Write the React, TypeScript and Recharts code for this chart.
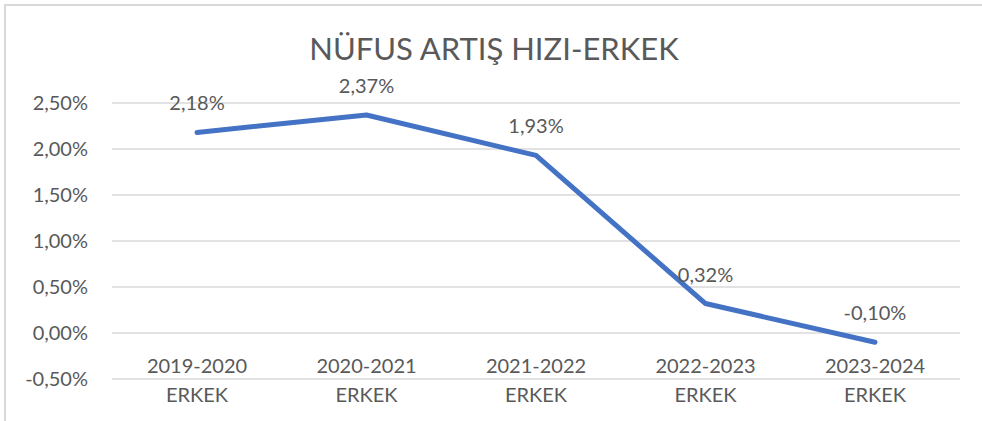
import { LineChart, Line, XAxis, YAxis, CartesianGrid, LabelList } from "recharts";

const periods = ["2019-2020", "2020-2021", "2021-2022", "2022-2023", "2023-2024"];
const gender = "ERKEK";
const growthRate = [2.18, 2.37, 1.93, 0.32, -0.1];
const yTicks = [-0.5, 0, 0.5, 1, 1.5, 2, 2.5];

const data = periods.map((p, i) => ({ period: p, rate: growthRate[i] }));

const textColor = "#595959";
const font = "Lato, 'Noto Sans', sans-serif";

const fmt = (v: number) => v.toFixed(2).replace(".", ",") + "%";

function PeriodTick(props: any) {
    const { x, y, payload } = props;
    return (
        <g>
            <text x={x} y={y - 16} textAnchor="middle" dominantBaseline="central" fill={textColor} fontSize={20} fontFamily={font}>
                {payload.value}
            </text>
            <text x={x} y={y + 13} textAnchor="middle" dominantBaseline="central" fill={textColor} fontSize={20} fontFamily={font}>
                {gender}
            </text>
        </g>
    );
}

function PointLabel(props: any) {
    const { x, y, value } = props;
    return (
        <text x={x} y={y - 30} textAnchor="middle" dominantBaseline="central" fill={textColor} fontSize={20} fontFamily={font}>
            {fmt(value)}
        </text>
    );
}

export default function App() {
    return (
        <div style={{ position: "absolute", left: 0, top: 0, width: 982, height: 421, background: "#fff", overflow: "hidden" }}>

            {/* frame */}
            <div
                style={{
                    position: "absolute",
                    left: 4,
                    top: 4,
                    width: 990,
                    height: 430,
                    borderTop: "2px solid #d9d9d9",
                    borderLeft: "2px solid #d9d9d9",
                }}
            />

            {/* TITLE */}
            <div
                style={{
                    position: "absolute",
                    left: 0,
                    width: 988,
                    top: 28,
                    textAlign: "center",
                    fontFamily: font,
                    fontSize: 31,
                    lineHeight: "40px",
                    color: textColor,
                }}
            >
                NÜFUS ARTIŞ HIZI-ERKEK
            </div>

            <div style={{ position: "absolute", left: 0, top: 0 }}>
                <LineChart width={982} height={421} data={data} margin={{ top: 103, right: 22, left: 0, bottom: 0 }}>
                    <CartesianGrid vertical={false} stroke="#d9d9d9" strokeWidth={1.5} />
                    <XAxis
                        dataKey="period"
                        height={42}
                        axisLine={false}
                        tickLine={false}
                        tickSize={0}
                        padding={{ left: 85, right: 85 }}
                        interval={0}
                        tick={<PeriodTick />}
                    />
                    <YAxis
                        width={112}
                        domain={[-0.5, 2.5]}
                        ticks={yTicks}
                        axisLine={false}
                        tickLine={false}
                        tickSize={0}
                        tickMargin={24}
                        tickFormatter={fmt}
                        tick={{ fill: textColor, fontSize: 20, fontFamily: font }}
                    />
                    <Line
                        type="linear"
                        dataKey="rate"
                        stroke="#4472C4"
                        strokeWidth={5}
                        strokeLinecap="round"
                        strokeLinejoin="round"
                        dot={false}
                        activeDot={false}
                        isAnimationActive={false}
                    >
                        <LabelList dataKey="rate" content={<PointLabel />} />
                    </Line>
                </LineChart>
            </div>
        </div>
    );
}
